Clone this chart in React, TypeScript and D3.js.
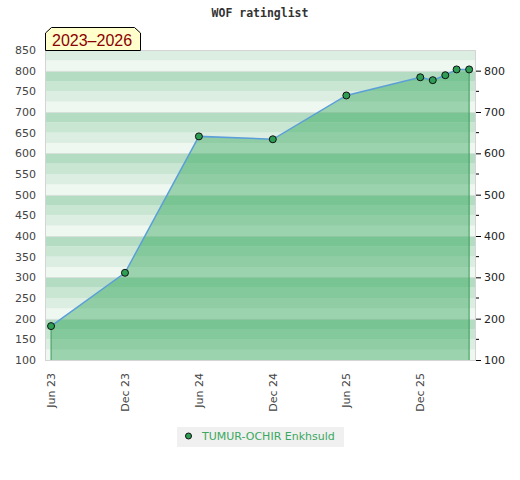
import { useRef, useEffect } from 'react';
import * as d3 from 'd3';

const title = 'WOF ratinglist';
const periodLabel = '2023–2026';
const playerName = 'TUMUR-OCHIR Enkhsuld';

const listDates = [
  '2023-06-01', '2023-12-01', '2024-06-01', '2024-12-01', '2025-06-01',
  '2025-12-01', '2026-01-01', '2026-02-01', '2026-03-01', '2026-04-01',
];
const ratings = [182, 311, 641, 634, 740, 784, 777, 789, 803, 803];

const tickDates = ['2023-06-01', '2023-12-01', '2024-06-01', '2024-12-01', '2025-06-01', '2025-12-01'];
const tickLabels = ['Jun 23', 'Dec 23', 'Jun 24', 'Dec 24', 'Jun 25', 'Dec 25'];

const leftTicks = [100, 150, 200, 250, 300, 350, 400, 450, 500, 550, 600, 650, 700, 750, 800, 850];
const rightTicks = [100, 200, 300, 400, 500, 600, 700, 800];
const rightMinorTicks = [150, 250, 350, 450, 550, 650, 750];

// stripe shades, from lowest quarter of each hundred up
const stripeColors = ['#eff7f1', '#dcede2', '#c8e6d2', '#b3dcc3'];

const W = 520;
const H = 480;

const Chart = () => {
  const svgRef = useRef<SVGSVGElement | null>(null);

  useEffect(() => {
    if (!svgRef.current) return;
    const svg = d3.select(svgRef.current);
    svg.selectAll('*').remove();

    const left = 45;
    const right = 476;
    const top = 50;
    const bottom = 360;

    const parse = d3.timeParse('%Y-%m-%d');
    const data = listDates.map((d, i) => ({ date: parse(d)!, value: ratings[i] }));

    const x = d3
      .scaleTime()
      .domain([parse('2023-05-17')!, parse('2026-04-18')!])
      .range([left, right]);

    const y = d3.scaleLinear().domain([100, 850]).range([bottom, top]);

    // background stripes
    const bands = d3.range(100, 850, 25);
    svg
      .append('g')
      .selectAll('rect')
      .data(bands)
      .join('rect')
      .attr('x', left)
      .attr('width', right - left)
      .attr('y', (d) => y(d + 25))
      .attr('height', (d) => y(d) - y(d + 25))
      .attr('fill', (d) => stripeColors[((d - 100) / 25) % 4]);

    svg
      .append('g')
      .selectAll('line')
      .data(rightTicks.slice(1))
      .join('line')
      .attr('x1', left)
      .attr('x2', right)
      .attr('y1', (d) => Math.round(y(d)) + 0.5)
      .attr('y2', (d) => Math.round(y(d)) + 0.5)
      .attr('stroke', '#d6e2d9')
      .attr('stroke-width', 1);

    // filled area
    const area = d3
      .area<{ date: Date; value: number }>()
      .x((d) => x(d.date))
      .y0(y(100))
      .y1((d) => y(d.value));

    svg
      .append('path')
      .datum(data)
      .attr('fill', 'rgb(38,161,81)')
      .attr('fill-opacity', 0.42)
      .attr('d', area);

    // vertical edge lines
    const ends = [data[0], data[data.length - 1]];
    svg
      .append('g')
      .selectAll('line')
      .data(ends)
      .join('line')
      .attr('x1', (d) => x(d.date))
      .attr('x2', (d) => x(d.date))
      .attr('y1', (d) => y(d.value))
      .attr('y2', y(100))
      .attr('stroke', '#3a9a5a')
      .attr('stroke-width', 1);

    const line = d3
      .line<{ date: Date; value: number }>()
      .x((d) => x(d.date))
      .y((d) => y(d.value));

    svg
      .append('path')
      .datum(data)
      .attr('fill', 'none')
      .attr('stroke', '#5b9fd8')
      .attr('stroke-width', 1.5)
      .attr('d', line);

    svg
      .append('g')
      .selectAll('circle')
      .data(data)
      .join('circle')
      .attr('cx', (d) => x(d.date))
      .attr('cy', (d) => y(d.value))
      .attr('r', 3.5)
      .attr('fill', '#2e9e55')
      .attr('stroke', '#111')
      .attr('stroke-width', 1);

    // plot border
    svg
      .append('rect')
      .attr('x', left + 0.5)
      .attr('y', top + 0.5)
      .attr('width', right - left - 1)
      .attr('height', bottom - top)
      .attr('fill', 'none')
      .attr('stroke', '#d4d4d4')
      .attr('stroke-width', 1);

    const font = '"DejaVu Sans", sans-serif';

    // left axis labels
    svg
      .append('g')
      .selectAll('text')
      .data(leftTicks)
      .join('text')
      .attr('x', 36)
      .attr('y', (d) => y(d))
      .attr('dy', '0.35em')
      .attr('text-anchor', 'end')
      .attr('font-family', font)
      .attr('font-size', 11)
      .attr('fill', '#444')
      .text((d) => d);

    // right axis
    const rightAxis = d3
      .axisRight(y)
      .tickValues(rightTicks)
      .tickSize(5)
      .tickPadding(3);
    const ra = svg
      .append('g')
      .attr('transform', `translate(${right},0)`)
      .call(rightAxis);
    ra.select('.domain').remove();
    ra.selectAll('line').attr('stroke', '#000');
    ra.selectAll('text')
      .attr('font-family', font)
      .attr('font-size', 11)
      .attr('fill', '#222');

    svg
      .append('g')
      .selectAll('line')
      .data(rightMinorTicks)
      .join('line')
      .attr('x1', right)
      .attr('x2', right + 3)
      .attr('y1', (d) => y(d))
      .attr('y2', (d) => y(d))
      .attr('stroke', '#000');

    // bottom labels
    svg
      .append('g')
      .selectAll('text')
      .data(tickDates)
      .join('text')
      .attr('transform', (d) => `translate(${x(parse(d)!) + 4},373) rotate(-90)`)
      .attr('text-anchor', 'end')
      .attr('font-family', font)
      .attr('font-size', 11)
      .attr('fill', '#444')
      .text((_, i) => tickLabels[i]);

    // title
    svg
      .append('text')
      .attr('x', 260)
      .attr('y', 17)
      .attr('text-anchor', 'middle')
      .attr('font-family', '"DejaVu Sans Mono", monospace')
      .attr('font-weight', 'bold')
      .attr('font-size', 11.5)
      .attr('fill', '#333')
      .text(title);

    // period tag
    svg
      .append('path')
      .attr('d', 'M45.5,50.5 L45.5,33 L51.5,27.5 L134.5,27.5 L140.5,33 L140.5,50.5 Z')
      .attr('fill', '#ffffcc')
      .attr('stroke', '#000')
      .attr('stroke-width', 1);

    svg
      .append('text')
      .attr('x', 52)
      .attr('y', 46)
      .attr('font-family', '"Liberation Sans", sans-serif')
      .attr('font-size', 16)
      .attr('fill', '#8b0000')
      .text(periodLabel);

    // legend
    const lg = svg.append('g');
    lg.append('rect')
      .attr('x', 177)
      .attr('y', 427)
      .attr('width', 167)
      .attr('height', 20)
      .attr('fill', '#f0f0f0');
    lg.append('circle')
      .attr('cx', 188.5)
      .attr('cy', 436)
      .attr('r', 3)
      .attr('fill', '#2e9e55')
      .attr('stroke', '#111');
    lg.append('text')
      .attr('x', 202)
      .attr('y', 440)
      .attr('font-family', font)
      .attr('font-size', 11)
      .attr('fill', '#3aa860')
      .text(playerName);
  }, []);

  return (
    <svg
      ref={svgRef}
      width={W}
      height={H}
      style={{ position: 'absolute', left: 0, top: 0, background: '#fff' }}
    />
  );
};

export default function App() {
  return <Chart />;
}
